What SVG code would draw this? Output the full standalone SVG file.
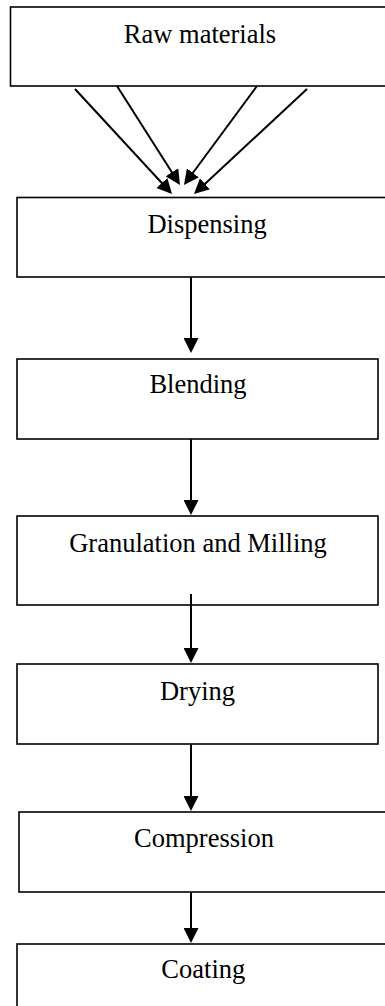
<svg xmlns="http://www.w3.org/2000/svg" width="385" height="1006" viewBox="0 0 385 1006">
<style>
.box{fill:#fff;stroke:#000;stroke-width:1.6}
.lbl{font-family:"Liberation Serif","Times New Roman",serif;font-size:26.5px;fill:#000;text-anchor:middle}
.conn{stroke:#000;stroke-width:2;fill:none;marker-end:url(#ah)}
</style>
<defs>
<marker id="ah" markerUnits="userSpaceOnUse" markerWidth="15" markerHeight="15" refX="2" refY="7.5" orient="auto">
<path d="M0,0 L15,7.5 L0,15 z" fill="#000"/>
</marker>
</defs>
<rect width="385" height="1006" fill="#fff"/>
<g id="raw-materials"><rect class="box" x="10.5" y="7" width="380" height="79"/><text class="lbl" x="200" y="42.7">Raw materials</text></g>
<g id="dispensing"><rect class="box" x="17" y="197.5" width="375" height="79.5"/><text class="lbl" x="207" y="233.3">Dispensing</text></g>
<g id="blending"><rect class="box" x="17" y="359" width="361" height="80"/><text class="lbl" x="198" y="393.3">Blending</text></g>
<g id="granulation"><rect class="box" x="17" y="516" width="361" height="89"/><text class="lbl" x="198" y="551.7">Granulation and Milling</text></g>
<g id="drying"><rect class="box" x="17" y="664" width="361" height="80"/><text class="lbl" x="197.5" y="700">Drying</text></g>
<g id="compression"><rect class="box" x="19" y="812" width="373" height="80"/><text class="lbl" x="204" y="847.3">Compression</text></g>
<g id="coating"><rect class="box" x="17" y="944" width="375" height="70"/><text class="lbl" x="203.3" y="978.3">Coating</text></g>
<g id="connectors">
<line class="conn" x1="75" y1="89" x2="163.2" y2="184.5"/>
<line class="conn" x1="117" y1="86" x2="173" y2="174"/>
<line class="conn" x1="257" y1="86" x2="191.7" y2="174.5"/>
<line class="conn" x1="307" y1="89" x2="203.5" y2="185.2"/>
<line class="conn" x1="191" y1="277" x2="191" y2="340"/>
<line class="conn" x1="191" y1="439" x2="191" y2="502"/>
<line class="conn" x1="191" y1="594" x2="191" y2="650"/>
<line class="conn" x1="191" y1="744" x2="191" y2="798"/>
<line class="conn" x1="191" y1="892" x2="191" y2="930"/>
</g>
</svg>
